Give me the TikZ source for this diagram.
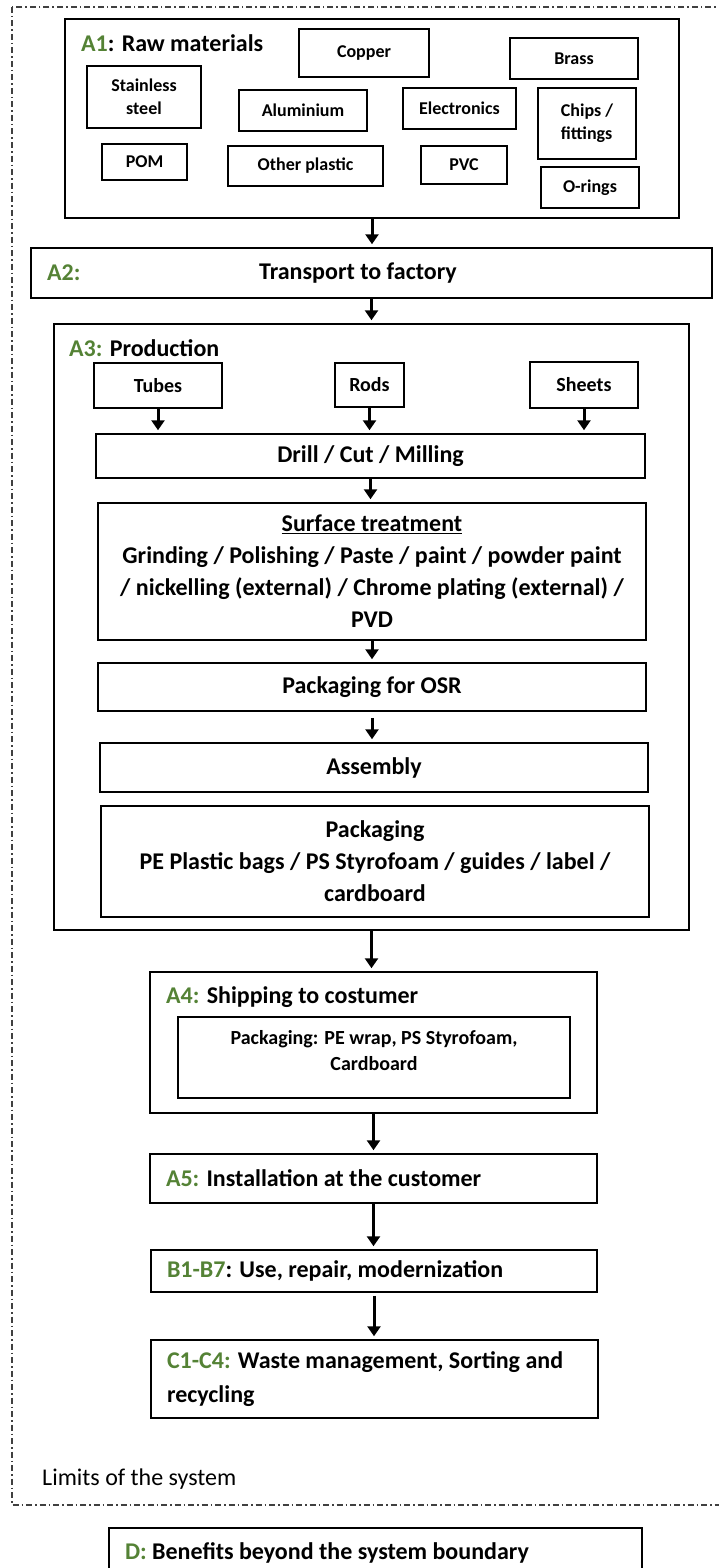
\documentclass[tikz,border=0pt]{standalone}
\usepackage{fontspec}
\setmainfont{Carlito}
\usepackage{xcolor}
\usepackage{tikz}
\usetikzlibrary{arrows.meta}
\definecolor{stagegreen}{RGB}{84,130,53}
\newcommand{\stg}[1]{\textcolor{stagegreen}{#1}}

\begin{document}
\begin{tikzpicture}[x=1pt,y=-1pt,
  box/.style={draw, line width=1.5pt, inner sep=0pt, align=center},
  big/.style={font=\fontsize{24}{32}\selectfont\bfseries},
  mid/.style={font=\fontsize{20}{26}\selectfont\bfseries},
  small/.style={font=\fontsize{18}{23}\selectfont\bfseries},
  arr/.style={-{Triangle[length=10pt,width=13pt]}, line width=3pt, shorten >=3pt}]
\clip (0,0) rectangle (719,1568);

% system boundary
\draw[line width=1.2pt, black!75, dash pattern=on 6pt off 3pt on 1.5pt off 3pt] (12,7) rectangle (740,1505);
\node[font=\fontsize{24}{28}\selectfont, anchor=west, inner sep=0pt] (limits) at (42,1479) {Limits of the system};

% A1 raw materials
\node[box, minimum width=614pt, minimum height=199pt] (a1) at (372,118.5) {};
\node[big, anchor=west, inner sep=0pt] (a1t) at (81,43) {\stg{A1}: Raw materials};
\node[box, small, minimum width=130pt, minimum height=48pt] (copper) at (364,53) {Copper};
\node[box, small, minimum width=128pt, minimum height=41pt] (brass) at (574,58.5) {Brass};
\node[box, small, minimum width=114pt, minimum height=62pt] (steel) at (144,97) {Stainless\\steel};
\node[box, small, minimum width=128pt, minimum height=41pt] (alu) at (303,110.5) {Aluminium};
\node[box, small, minimum width=113pt, minimum height=41pt] (elec) at (459.5,108.5) {Electronics};
\node[box, small, align=left, minimum width=98pt, minimum height=71pt] (chips) at (587,123.5) {Chips /\\fittings};
\node[box, small, minimum width=85pt, minimum height=36pt] (pom) at (144.5,162) {POM};
\node[box, small, minimum width=155pt, minimum height=40pt] (plastic) at (305.5,166) {Other plastic};
\node[box, small, minimum width=86pt, minimum height=38pt] (pvc) at (464,165) {PVC};
\node[box, small, minimum width=98pt, minimum height=41pt] (orings) at (590,187.5) {O-rings};

% A2 transport
\node[box, minimum width=681pt, minimum height=50pt] (a2) at (371.5,273) {};
\node[big, anchor=west, inner sep=0pt] (a2t) at (47,273) {\stg{A2:}};
\node[big, inner sep=0pt] (transport) at (358,273) {Transport to factory};

% A3 production
\node[box, minimum width=635pt, minimum height=606pt] (a3) at (371.5,627) {};
\node[big, anchor=west, inner sep=0pt] (a3t) at (69,348) {\stg{A3:} Production};
\node[box, mid, minimum width=128pt, minimum height=45pt] (tubes) at (158,385.5) {Tubes};
\node[box, mid, minimum width=69pt, minimum height=44pt] (rods) at (369.5,385) {Rods};
\node[box, mid, minimum width=108pt, minimum height=46pt] (sheets) at (584,385) {Sheets};
\node[box, big, minimum width=549pt, minimum height=44pt] (drill) at (370.5,456) {Drill / Cut / Milling};
\node[box, big, minimum width=548pt, minimum height=137pt] (surface) at (372,571.5)
  {\underline{Surface treatment}\\Grinding / Polishing / Paste / paint / powder paint\\/ nickelling (external) / Chrome plating (external) /\\PVD};
\node[box, big, minimum width=548pt, minimum height=48pt] (osr) at (372,687) {Packaging for OSR};
\node[box, big, minimum width=548pt, minimum height=49pt] (assembly) at (374,767.5) {Assembly};
\node[box, big, minimum width=548pt, minimum height=111pt] (packaging) at (375,861.5)
  {Packaging\\PE Plastic bags / PS Styrofoam / guides / label /\\cardboard};

% A4 shipping
\node[box, minimum width=447pt, minimum height=141pt] (a4) at (373.5,1042.5) {};
\node[big, anchor=west, inner sep=0pt] (a4t) at (166,997) {\stg{A4:} Shipping to costumer};
\node[box, mid, minimum width=392pt, minimum height=81pt, text depth=14pt] (shippack) at (374,1057.5)
  {Packaging: PE wrap, PS Styrofoam,\\Cardboard};

% A5, B, C
\node[box, big, align=flush left, text width=415pt, inner xsep=16pt, minimum height=49pt] (a5) at (373.5,1178.5)
  {\stg{A5:} Installation at the customer};
\node[box, big, align=flush left, text width=414pt, inner xsep=16pt, minimum height=42pt] (use) at (374,1271)
  {\stg{B1-B7}: Use, repair, modernization};
\node[box, big, align=flush left, text width=415pt, inner xsep=16pt, minimum height=78pt,
  font=\fontsize{24}{34}\selectfont\bfseries] (waste) at (374.5,1379)
  {\stg{C1-C4:} Waste management, Sorting and\\recycling};

% D beyond the boundary
\node[box, big, align=flush left, text width=501pt, inner xsep=16pt, minimum height=50pt] (benefits) at (375.5,1553)
  {\stg{D:} Benefits beyond the system boundary};

% flow
\draw[arr] (a1.south) -- (a1.south |- a2.north);
\draw[arr] (a2.south) -- (a2.south |- a3.north);
\draw[arr] (tubes.south) -- (tubes.south |- drill.north);
\draw[arr] (rods.south) -- (rods.south |- drill.north);
\draw[arr] (sheets.south) -- (sheets.south |- drill.north);
\draw[arr] (drill.south) -- (drill.south |- surface.north);
\draw[arr] (surface.south) -- (surface.south |- osr.north);
\draw[arr] ([yshift=-6pt]osr.south) -- (osr.south |- assembly.north);
\draw[arr] (a3.south) -- (a3.south |- a4.north);
\draw[arr] (a4.south) -- (a4.south |- a5.north);
\draw[arr] (a5.south) -- (a5.south |- use.north);
\draw[arr] ([yshift=-3pt]use.south) -- (use.south |- waste.north);
\end{tikzpicture}
\end{document}
